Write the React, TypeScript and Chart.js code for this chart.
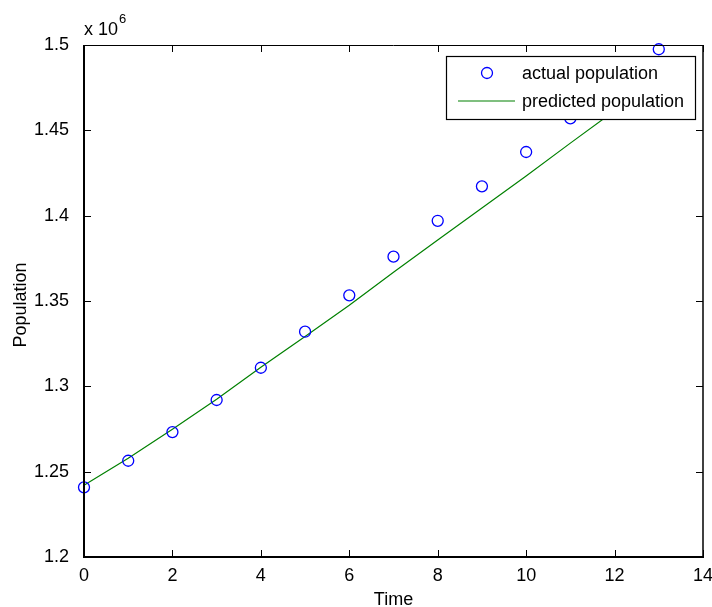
import React, { useEffect, useRef } from "react";
import { Chart, registerables } from "chart.js";

Chart.register(...registerables);

const times = [0, 1, 2, 3, 4, 5, 6, 7, 8, 9, 10, 11, 12, 13];
const actualPopulation = [
  1240800, 1256400, 1273200, 1292000, 1310900, 1332000, 1353300, 1376000,
  1397000, 1417200, 1437300, 1457000, 1477000, 1497500,
];
const predictedPopulation = [
  1242000, 1257800, 1274800, 1292400, 1311200, 1329200, 1347500, 1366800,
  1385700, 1404500, 1423200, 1442500, 1461500, 1480500,
];
const xTicks = [0, 2, 4, 6, 8, 10, 12, 14];
const yTicks = [1200000, 1250000, 1300000, 1350000, 1400000, 1450000, 1500000];
const yTickLabels = ["1.2", "1.25", "1.3", "1.35", "1.4", "1.45", "1.5"];
const seriesNames = ["actual population", "predicted population"];
const xTitle = "Time";
const yTitle = "Population";

const FONT = "Liberation Sans, Arial, sans-serif";

const matlabPlugin = {
  id: "matlabDecor",
  afterDraw(chart: any) {
    const ctx = chart.ctx;
    const { left, right, top, bottom } = chart.chartArea;
    const xs = chart.scales.x;
    const ys = chart.scales.y;
    ctx.save();
    // inward ticks
    ctx.strokeStyle = "#000";
    ctx.lineWidth = 1;
    const tl = 7;
    xTicks.forEach((v) => {
      const px = Math.round(xs.getPixelForValue(v)) + 0.5;
      ctx.beginPath();
      ctx.moveTo(px, bottom);
      ctx.lineTo(px, bottom - tl);
      ctx.moveTo(px, top);
      ctx.lineTo(px, top + tl);
      ctx.stroke();
    });
    yTicks.forEach((v) => {
      const py = Math.round(ys.getPixelForValue(v)) + 0.5;
      ctx.beginPath();
      ctx.moveTo(left, py);
      ctx.lineTo(left + tl, py);
      ctx.moveTo(right, py);
      ctx.lineTo(right - tl, py);
      ctx.stroke();
    });
    // box
    ctx.strokeStyle = "#000";
    ctx.lineWidth = 1;
    ctx.beginPath();
    ctx.moveTo(left, top + 0.5);
    ctx.lineTo(right, top + 0.5);
    ctx.stroke();
    ctx.lineWidth = 1.5;
    ctx.beginPath();
    ctx.moveTo(right, top);
    ctx.lineTo(right, bottom);
    ctx.stroke();
    ctx.lineWidth = 2;
    ctx.beginPath();
    ctx.moveTo(left, top);
    ctx.lineTo(left, bottom + 1);
    ctx.moveTo(left - 1, bottom);
    ctx.lineTo(right + 1, bottom);
    ctx.stroke();

    // exponent label
    ctx.fillStyle = "#000";
    ctx.textBaseline = "alphabetic";
    ctx.textAlign = "left";
    ctx.font = `18px ${FONT}`;
    ctx.fillText("x 10", left, 35);
    const w = ctx.measureText("x 10").width;
    ctx.font = `13px ${FONT}`;
    ctx.fillText("6", left + w + 1, 23);

    // axis titles
    ctx.font = `18px ${FONT}`;
    ctx.textAlign = "center";
    ctx.textBaseline = "middle";
    ctx.fillText(xTitle, (left + right) / 2, 600);
    ctx.save();
    ctx.translate(21, (top + bottom) / 2 + 4);
    ctx.rotate(-Math.PI / 2);
    ctx.fillText(yTitle, 0, 0);
    ctx.restore();

    // legend
    const lx = 446.5, ly = 56.5, lw = 249, lh = 63;
    ctx.fillStyle = "#fff";
    ctx.fillRect(lx, ly, lw, lh);
    ctx.strokeStyle = "#000";
    ctx.lineWidth = 1.2;
    ctx.strokeRect(lx, ly, lw, lh);
    ctx.strokeStyle = "#0000ff";
    ctx.lineWidth = 1.3;
    ctx.beginPath();
    ctx.arc(487, 73, 5.5, 0, Math.PI * 2);
    ctx.stroke();
    ctx.strokeStyle = "#008000";
    ctx.lineWidth = 1.2;
    ctx.beginPath();
    ctx.moveTo(458, 101);
    ctx.lineTo(515, 101);
    ctx.stroke();
    ctx.fillStyle = "#000";
    ctx.textAlign = "left";
    ctx.textBaseline = "middle";
    ctx.font = `18px ${FONT}`;
    ctx.fillText(seriesNames[0], 522, 74);
    ctx.fillText(seriesNames[1], 522, 102);
    ctx.restore();
  },
};

export default function App() {
  const ref = useRef<HTMLCanvasElement>(null);
  useEffect(() => {
    if (!ref.current) return;
    const chart = new Chart(ref.current, {
      type: "scatter",
      data: {
        datasets: [
          {
            label: seriesNames[1],
            data: times.map((t, i) => ({ x: t, y: predictedPopulation[i] })),
            showLine: true,
            borderColor: "#008000",
            borderWidth: 1.2,
            pointRadius: 0,
            fill: false,
            clip: false as any,
            order: 2,
          },
          {
            label: seriesNames[0],
            data: times.map((t, i) => ({ x: t, y: actualPopulation[i] })),
            showLine: false,
            pointStyle: "circle",
            pointRadius: 5.5,
            borderWidth: 1.3,
            borderColor: "#0000ff",
            backgroundColor: "rgba(0,0,0,0)",
            clip: false as any,
            order: 1,
          },
        ],
      },
      options: {
        animation: false,
        responsive: false,
        events: [],
        layout: { padding: { top: 45, right: 9, left: 0, bottom: 0 } },
        plugins: {
          legend: { display: false },
          tooltip: { enabled: false },
        },
        scales: {
          x: {
            type: "linear",
            min: 0,
            max: 14,
            grid: { display: false },
            border: { display: false },
            afterBuildTicks: (s: any) => {
              s.ticks = xTicks.map((v) => ({ value: v }));
            },
            afterFit: (s: any) => {
              s.height = 50;
              s.paddingLeft = 0;
              s.paddingRight = 0;
            },
            ticks: {
              color: "#000",
              padding: 0,
              maxRotation: 0,
              autoSkip: false,
              font: { family: FONT, size: 18 },
              callback: (v: any) => String(v),
            },
          },
          y: {
            type: "linear",
            min: 1200000,
            max: 1500000,
            grid: { display: false },
            border: { display: false },
            afterBuildTicks: (s: any) => {
              s.ticks = yTicks.map((v) => ({ value: v }));
            },
            afterFit: (s: any) => {
              s.width = 84;
              s.paddingTop = 0;
              s.paddingBottom = 0;
            },
            ticks: {
              color: "#000",
              padding: 7,
              autoSkip: false,
              font: { family: FONT, size: 18 },
              callback: (v: any) => {
                const i = yTicks.indexOf(Number(v));
                return i >= 0 ? yTickLabels[i] : "";
              },
            },
          },
        },
      },
      plugins: [matlabPlugin],
    });
    return () => chart.destroy();
  }, []);
  return (
    <div style={{ position: "fixed", left: 0, top: 0, width: 712, height: 607, background: "#fff" }}>
      <canvas ref={ref} width={712} height={607} style={{ display: "block", width: 712, height: 607 }} />
    </div>
  );
}
